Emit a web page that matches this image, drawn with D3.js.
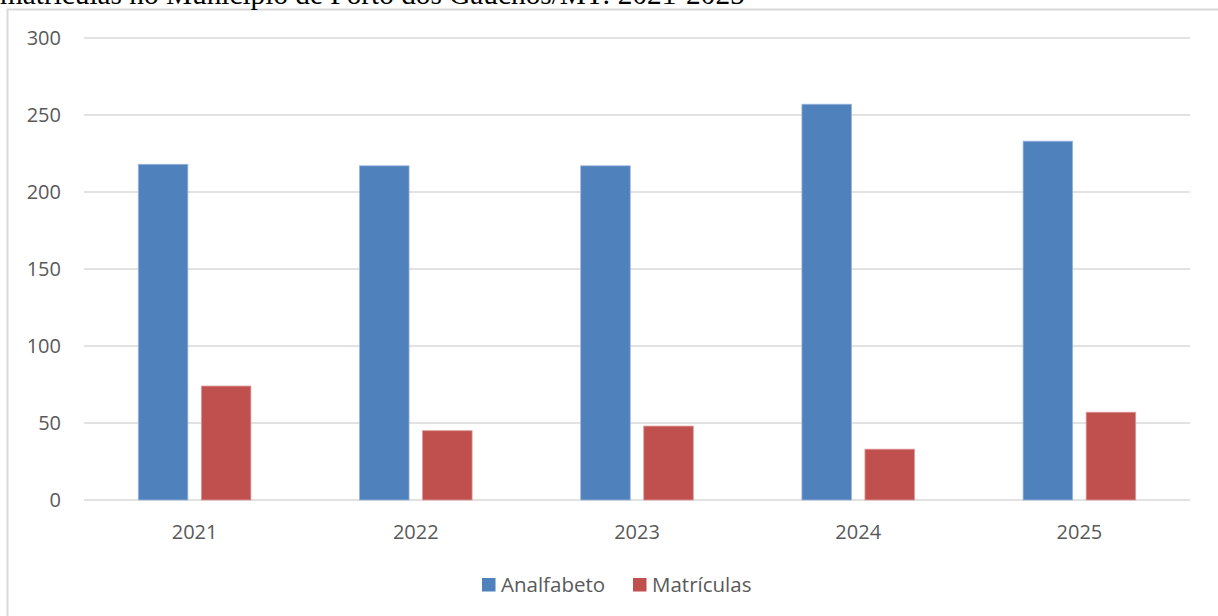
<!DOCTYPE html>
<html><head><meta charset="utf-8">
<script src="https://cdn.jsdelivr.net/npm/d3@7"></script>
<style>html,body{margin:0;padding:0;background:#fff;overflow:hidden}</style>
</head><body>
<svg id="c" width="1218" height="616"></svg>
<script>
const categories = ["2021","2022","2023","2024","2025"];
const seriesNames = ["Analfabeto","Matrículas"];
const analfabeto = [218,217,217,257,233];
const matriculas = [74,45,48,33,57];
const yTicks = [0,50,100,150,200,250,300];
const titleText = "matrículas no Município de Porto dos Gaúchos/MT: 2021-2025";

const colors = ["#4F81BD","#C0504D"];
const strokes = ["#9BB4DA","#DC9A98"];
const svg = d3.select("#c");
const plot = {l:84, r:1190, t:38, b:500};

// chart frame
svg.append("rect").attr("x",7.5).attr("y",9.5).attr("width",1300).attr("height",700)
  .attr("fill","#fff").attr("stroke","#d9d9d9").attr("stroke-width",2);

// title (clipped at top, as in the reference)
const title = svg.append("text").attr("x",0).attr("y",4)
  .attr("font-family","'Liberation Serif','Times New Roman',serif")
  .attr("font-size",29).attr("fill","#000").text(titleText);
const tl = title.node().getComputedTextLength();
title.attr("font-size", 29*745/tl);

const x0 = d3.scaleBand().domain(categories).range([plot.l,plot.r]).paddingInner(0).paddingOuter(0);
const y = d3.scaleLinear().domain([0,300]).range([plot.b,plot.t]);

// grid
svg.append("g").selectAll("line").data(yTicks).join("line")
  .attr("x1",plot.l).attr("x2",plot.r)
  .attr("y1",d=>y(d)).attr("y2",d=>y(d))
  .attr("stroke","#d9d9d9").attr("stroke-width",1.5);

// y labels
const yAxis = d3.axisLeft(y).tickValues(yTicks).tickSize(0).tickPadding(0);
const ga = svg.append("g").attr("transform",`translate(61,0)`).call(yAxis);
ga.select(".domain").remove();
ga.selectAll("text").attr("font-family","'Open Sans',sans-serif").attr("font-size",20).attr("fill","#595959");

// x labels
const xAxis = d3.axisBottom(x0).tickSize(0).tickPadding(0);
const gx = svg.append("g").attr("transform",`translate(0,525)`).call(xAxis);
gx.select(".domain").remove();
gx.selectAll("text").attr("font-family","'Open Sans',sans-serif").attr("font-size",20).attr("fill","#595959").attr("dy","0.71em");

// bars
const bw = x0.bandwidth();
const barW = bw*0.224, gap = bw*0.061;
const x1 = d3.scaleOrdinal().domain(seriesNames).range([bw/2 - gap/2 - barW, bw/2 + gap/2]);
const vals = [analfabeto, matriculas];
seriesNames.forEach((s,si)=>{
  svg.append("g").selectAll("rect").data(categories).join("rect")
    .attr("x",(c)=>x0(c)+x1(s))
    .attr("y",(c,i)=>y(vals[si][i]))
    .attr("width",barW)
    .attr("height",(c,i)=>y(0)-y(vals[si][i]))
    .attr("fill",colors[si]).attr("stroke",strokes[si]).attr("stroke-width",0.8);
});

// legend
const leg = svg.append("g");
const legX = [482, 633];
seriesNames.forEach((s,i)=>{
  leg.append("rect").attr("x",legX[i]).attr("y",578).attr("width",13.5).attr("height",13.5).attr("fill",colors[i]);
  leg.append("text").attr("x",legX[i]+19).attr("y",591.5)
    .attr("font-family","'Open Sans',sans-serif").attr("font-size",20.5).attr("fill","#595959").text(s);
});
</script>
</body></html>
